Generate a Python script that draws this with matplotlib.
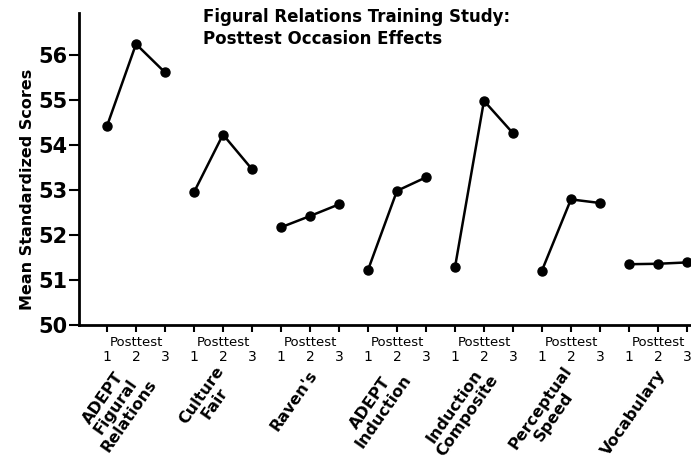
import numpy as np
import matplotlib
matplotlib.use("Agg")
import matplotlib.pyplot as plt
import matplotlib.transforms as mtransforms

# ---------------- DATA ----------------
measures = ["ADEPT\nFigural\nRelations", "Culture\nFair", "Raven's",
            "ADEPT\nInduction", "Induction\nComposite",
            "Perceptual\nSpeed", "Vocabulary"]
occasions = ["1", "2", "3"]

adept_fr = [54.42, 56.24, 55.61]
culture_fair = [52.95, 54.23, 53.46]
ravens = [52.17, 52.42, 52.68]
adept_ind = [51.22, 52.98, 53.28]
ind_comp = [51.28, 54.98, 54.26]
perc_speed = [51.21, 52.79, 52.71]
vocab = [51.35, 51.36, 51.39]

series = [adept_fr, culture_fair, ravens, adept_ind, ind_comp, perc_speed, vocab]

# ---------------- PLOT ----------------
plt.rcParams['font.family'] = ['DejaVu Sans']
fig = plt.figure(figsize=(6.91, 4.63), dpi=100)
ax = fig.add_axes([79 / 691, 138 / 463, 612 / 691, 312 / 463])

for g, vals in enumerate(series):
    x = np.arange(len(occasions)) + 3 * g
    ax.plot(x, vals, color='black', lw=1.8, marker='o', ms=6.5,
            clip_on=False, zorder=3)

ax.set_xlim(-0.966, 20.14)
ax.set_ylim(50, 56.93)

ax.spines['top'].set_visible(False)
ax.spines['right'].set_visible(False)
ax.spines['left'].set_linewidth(2.0)
ax.spines['bottom'].set_linewidth(2.0)

ax.set_yticks(range(50, 57))
ax.tick_params(axis='y', direction='out', length=7, width=1.5, pad=1,
               labelsize=15)
for lab in ax.get_yticklabels():
    lab.set_fontweight('bold')

ax.set_xticks(np.arange(3 * len(measures)))
ax.set_xticklabels(occasions * len(measures))
ax.tick_params(axis='x', direction='out', length=5, width=1.5, pad=13,
               labelsize=10)

ax.set_ylabel("Mean Standardized Scores", fontsize=11.5, fontweight='bold')
ax.yaxis.set_label_coords(-0.072, 0.434)

# group labels below the axis
trans = mtransforms.blended_transform_factory(ax.transData, fig.transFigure)
for g, name in enumerate(measures):
    ax.text(3 * g + 1, 1 - 343 / 463, "Posttest", transform=trans,
            ha='center', va='center', fontsize=9.5)
    ax.text(3 * g + 1.15, 1 - 372 / 463, name, transform=trans,
            ha='right', va='center', rotation=55, rotation_mode='anchor',
            multialignment='center', fontsize=11.5, fontweight='bold',
            linespacing=1.05)

fig.text(203 / 691, 1 - 8 / 463,
         "Figural Relations Training Study:\nPosttest Occasion Effects",
         ha='left', va='top', fontsize=12, fontweight='bold',
         linespacing=1.3)

fig.savefig("out.png", dpi=100)
